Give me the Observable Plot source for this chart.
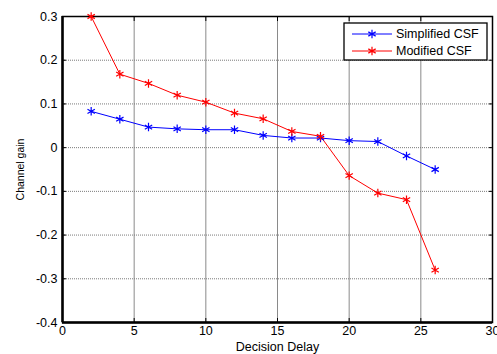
<!DOCTYPE html>
<html><head><meta charset="utf-8">
<script src="https://cdn.jsdelivr.net/npm/d3@7"></script>
<script src="https://cdn.jsdelivr.net/npm/@observablehq/plot@0.6"></script>
<style>
html,body{margin:0;padding:0;background:#fff;}
#chart{position:relative;width:497px;height:354px;}
svg{font-family:"Liberation Sans",Arial,sans-serif;}
</style>
</head><body>
<div id="chart"></div>
<script>
const delays = [2,4,6,8,10,12,14,16,18,20,22,24,26];
const simplifiedCSF = [0.083,0.065,0.047,0.043,0.041,0.041,0.028,0.022,0.022,0.016,0.014,-0.019,-0.05];
const modifiedCSF = [0.3,0.168,0.147,0.12,0.104,0.079,0.066,0.037,0.026,-0.064,-0.104,-0.119,-0.28];
const seriesNames = ["Simplified CSF","Modified CSF"];
const seriesColors = ["#0000ff","#ff0000"];
const xTicks = [0,5,10,15,20,25,30];
const yTicks = [-0.4,-0.3,-0.2,-0.1,0,0.1,0.2,0.3];
const yTickLabels = ["-0.4","-0.3","-0.2","-0.1","0","0.1","0.2","0.3"];

const rows = [];
[simplifiedCSF, modifiedCSF].forEach((vals, si) => {
  vals.forEach((v, i) => rows.push({series: seriesNames[si], x: delays[i], y: v}));
});

const plot = Plot.plot({
  width: 497, height: 354,
  marginLeft: 62, marginRight: 5, marginTop: 16, marginBottom: 32,
  style: {fontSize: "12.5px", fontFamily: "Liberation Sans, Arial, sans-serif", color: "#000", background: "#fff"},
  x: {domain: [0, 30], ticks: xTicks},
  y: {domain: [-0.4, 0.3], ticks: yTicks},
  color: {domain: seriesNames, range: seriesColors},
  marks: [
    Plot.gridX(xTicks, {stroke: "#8a8a8a", strokeOpacity: 1, strokeWidth: 1}),
    Plot.gridY(yTicks, {stroke: "#7a7a7a", strokeOpacity: 1, strokeWidth: 1, strokeDasharray: "1,1"}),
    Plot.frame({stroke: "#000", strokeWidth: 1.5}),
    Plot.axisX(xTicks, {tickSize: -4, text: null, label: null}),
    Plot.axisX(xTicks, {anchor: "top", tickSize: -4, text: null, label: null}),
    Plot.axisY(yTicks, {tickSize: -4, text: null, label: null}),
    Plot.axisY(yTicks, {anchor: "right", tickSize: -4, text: null, label: null}),
    Plot.axisX(xTicks, {tickSize: 0, tickPadding: 4, label: "Decision Delay", labelAnchor: "center", labelArrow: "none", labelOffset: 28}),
    Plot.axisY(yTicks, {tickSize: 0, tickPadding: 5, tickFormat: (d) => yTickLabels[yTicks.indexOf(d)], label: null}),
    Plot.axisY(yTicks, {tickSize: 0, text: null, label: "Channel gain", labelAnchor: "center", labelArrow: "none", labelOffset: 46, fontSize: 10.5}),
    Plot.ruleX([0], {stroke: "#000", strokeWidth: 2.5}),
    Plot.ruleY([-0.4], {stroke: "#000", strokeWidth: 2.5}),
    Plot.line(rows, {x: "x", y: "y", z: "series", stroke: "series", strokeWidth: 1}),
    Plot.dot(rows, {x: "x", y: "y", stroke: "series", symbol: "asterisk", r: 4, strokeWidth: 1.2})
  ]
});
document.getElementById("chart").appendChild(plot);

// legend box inside the plot (upper right)
const svg = d3.select(plot);
const lg = svg.append("g").attr("transform", "translate(344,23)");
lg.append("rect").attr("width", 143).attr("height", 37).attr("fill", "#fff").attr("stroke", "#000").attr("stroke-width", 1.3);
seriesNames.forEach((name, i) => {
  const yy = 11 + i * 17;
  lg.append("line").attr("x1", 8).attr("x2", 48).attr("y1", yy).attr("y2", yy).attr("stroke", seriesColors[i]).attr("stroke-width", 1);
  const s = d3.symbol(d3.symbolAsterisk, Math.PI * 16)();
  lg.append("path").attr("d", s).attr("transform", `translate(28,${yy})`).attr("fill", "none").attr("stroke", seriesColors[i]).attr("stroke-width", 1.2);
  lg.append("text").attr("x", 52).attr("y", yy).attr("dy", "0.35em").attr("text-anchor", "start").attr("font-size", 12.5).attr("fill", "#000").text(name);
});
</script>
</body></html>
